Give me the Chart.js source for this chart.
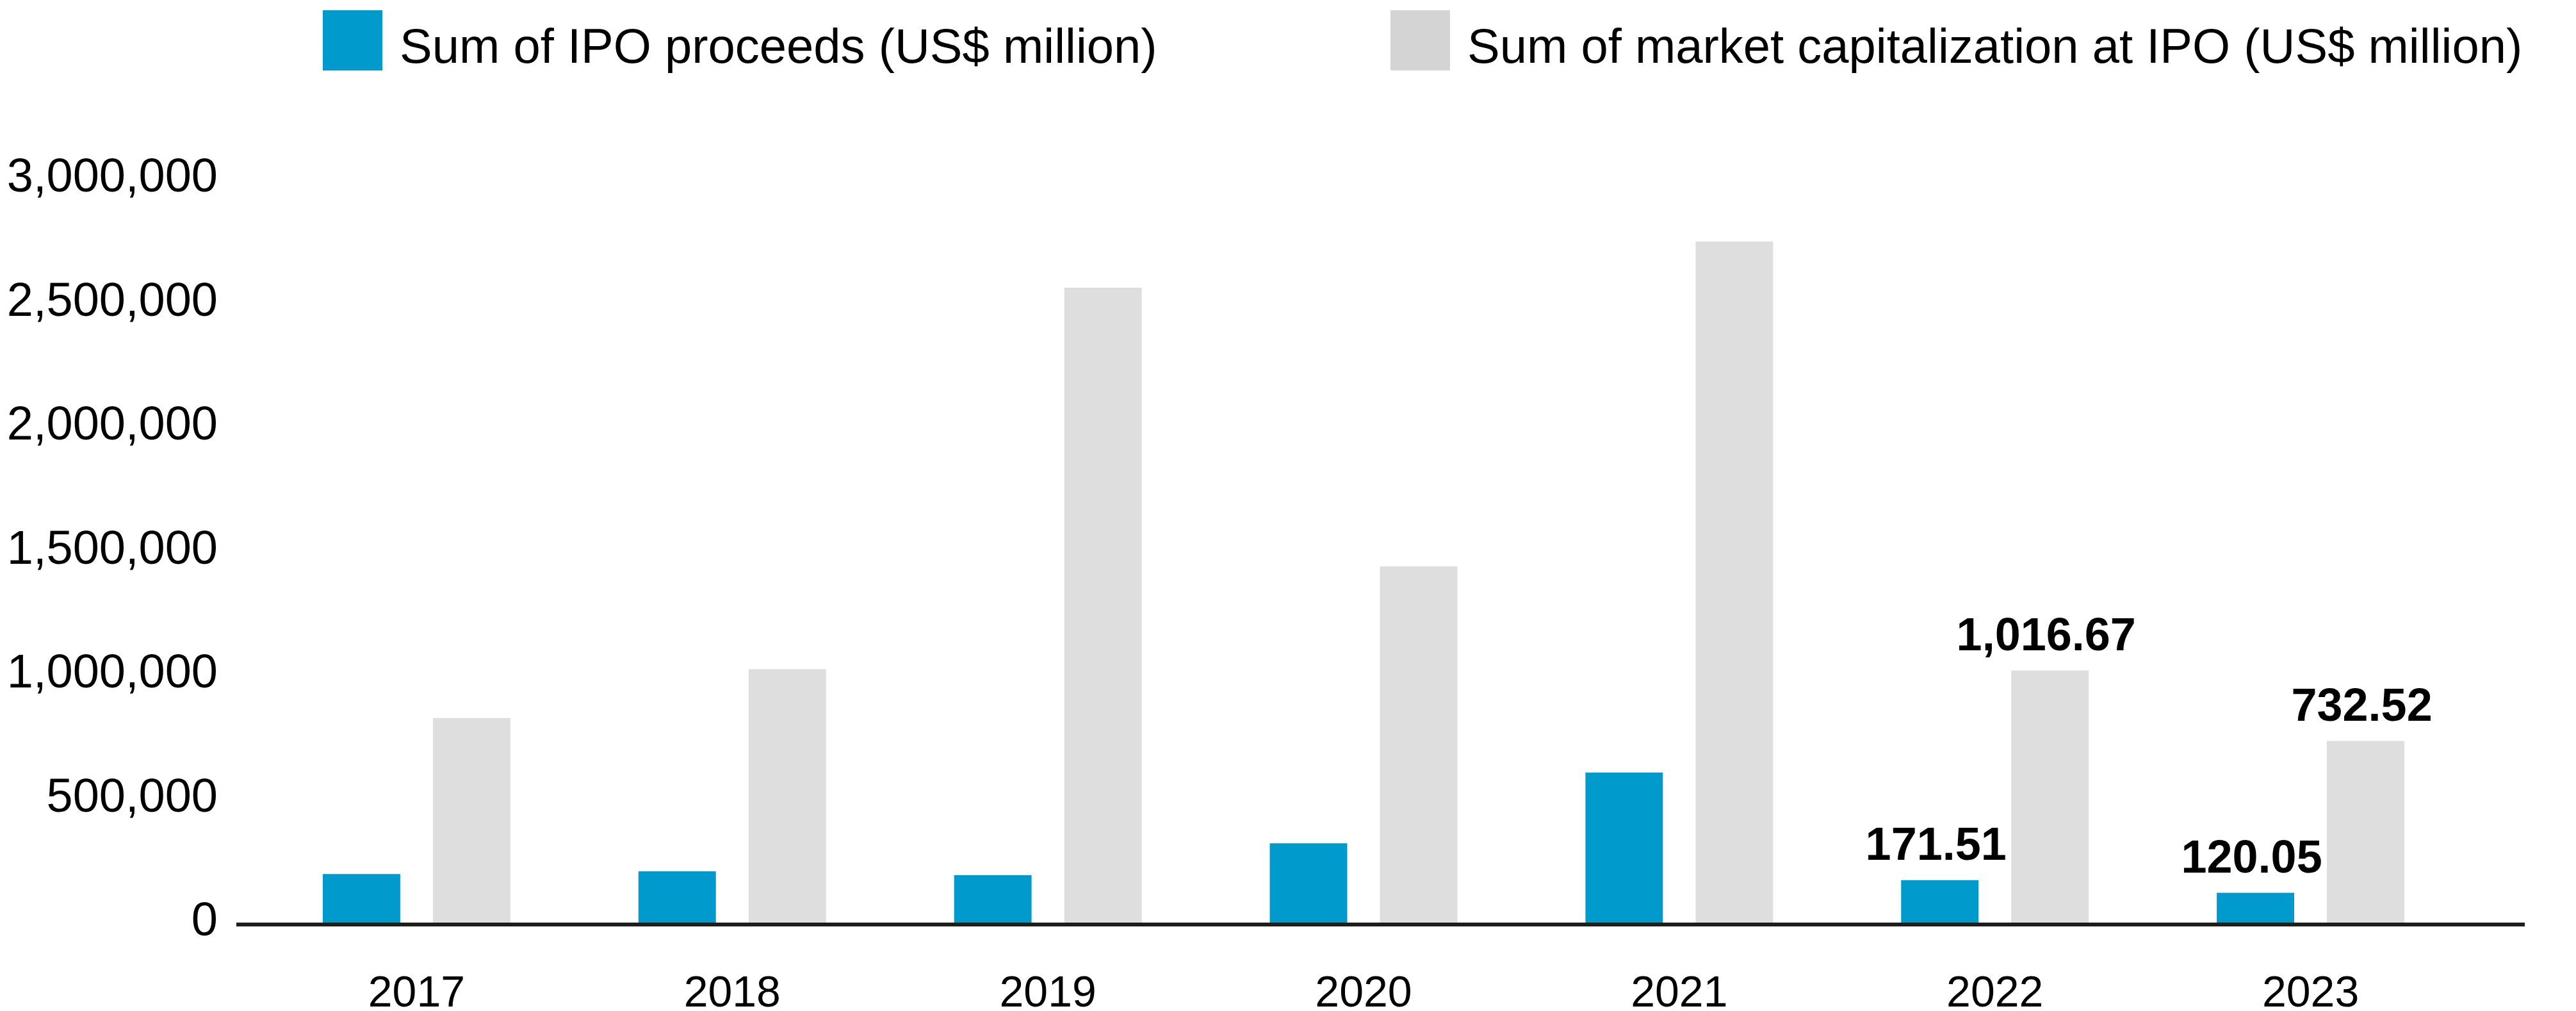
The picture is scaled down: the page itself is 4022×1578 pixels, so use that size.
<!DOCTYPE html>
<html>
<head>
<meta charset="utf-8">
<script src="https://cdn.jsdelivr.net/npm/chart.js@4.4.1/dist/chart.umd.min.js"></script>
<style>
  body { margin: 0; background: #fff; }
  #wrap { position: relative; width: 4022px; height: 1578px; }
  #legend { position: absolute; left: 0; top: 0; width: 100%; height: 130px; font-family: "Liberation Sans", Arial, sans-serif; }
  .item { position: absolute; top: 16px; }
  .box { position: absolute; left: 0; top: 0; width: 93px; height: 94px; }
  .txt { position: absolute; left: 120px; top: 18px; font-size: 76px; line-height: 76px; white-space: nowrap; color: #000; }
</style>
</head>
<body>
<div id="wrap">
  <canvas id="ipoChart"></canvas>
  <div id="legend"></div>
</div>
<script>
const years = ['2017', '2018', '2019', '2020', '2021', '2022', '2023']
const proceeds = [196000, 207000, 191000, 320000, 605000, 171510, 120050]
const marketCap = [825000, 1022000, 2561000, 1437000, 2747000, 1016670, 732520]
const proceedsLabels = [null, null, null, null, null, '171.51', '120.05']
const marketCapLabels = [null, null, null, null, null, '1,016.67', '732.52']
const yTicks = [0, 500000, 1000000, 1500000, 2000000, 2500000, 3000000]

const font = '"Liberation Sans", Arial, sans-serif'

// bold value labels above some bars
const valueLabels = {
    id: 'valueLabels',
    afterDatasetsDraw(chart) {
        const ctx = chart.ctx
        ctx.save()
        ctx.font = 'bold 72px ' + font
        ctx.fillStyle = '#000'
        ctx.textAlign = 'center'
        ctx.textBaseline = 'alphabetic'
        chart.data.datasets.forEach((ds, i) => {
            chart.getDatasetMeta(i).data.forEach((bar, j) => {
                const txt = ds.valueLabels[j]
                if (txt) ctx.fillText(txt, bar.x - 6, bar.y - 32)
            })
        })
        ctx.restore()
    }
}

// baseline at zero, a bit wider than the plot area
const zeroLine = {
    id: 'zeroLine',
    afterDatasetsDraw(chart) {
        const ctx = chart.ctx
        const y = chart.scales.y.getPixelForValue(0)
        ctx.save()
        ctx.strokeStyle = '#1d1d1b'
        ctx.lineWidth = 6
        ctx.beginPath()
        ctx.moveTo(chart.chartArea.left - 35, y + 3)
        ctx.lineTo(chart.chartArea.right + 88, y + 3)
        ctx.stroke()
        ctx.restore()
    }
}

const ctx = document.getElementById('ipoChart').getContext('2d')

const chart = new Chart(ctx, {
    type: 'bar',
    data: {
        labels: years,
        datasets: [{
            label: 'Sum of IPO proceeds (US$ million)',
            data: proceeds,
            valueLabels: proceedsLabels,
            backgroundColor: '#009acd',
            legendColor: '#009acd',
            categoryPercentage: 0.698,
            barPercentage: 0.703,
        }, {
            label: 'Sum of market capitalization at IPO (US$ million)',
            data: marketCap,
            valueLabels: marketCapLabels,
            backgroundColor: '#dedede',
            legendColor: '#d4d4d4',
            categoryPercentage: 0.698,
            barPercentage: 0.703,
        }]
    },
    options: {
        responsive: true,
        maintainAspectRatio: false,
        animation: false,
        layout: {
            padding: { top: 279, right: 168, bottom: 0, left: 0 }
        },
        scales: {
            x: {
                grid: { display: false },
                border: { display: false },
                ticks: {
                    color: '#000',
                    padding: 63,
                    font: { family: font, size: 68 }
                },
                afterFit(scale) { scale.height = 138 }
            },
            y: {
                min: 0,
                max: 3000000,
                grid: { display: false },
                border: { display: false },
                afterBuildTicks(scale) { scale.ticks = yTicks.map(v => ({ value: v })) },
                ticks: {
                    color: '#000',
                    padding: 56,
                    font: { family: font, size: 74 },
                    callback: (v) => v.toLocaleString('en-US')
                },
                afterFit(scale) { scale.width = 404 }
            }
        },
        plugins: {
            legend: { display: false },
            tooltip: { enabled: false }
        }
    },
    plugins: [valueLabels, zeroLine]
})

// html legend from the datasets
const legendPos = [504, 2171]
const legendEl = document.getElementById('legend')
chart.data.datasets.forEach((ds, i) => {
    const item = document.createElement('div')
    item.className = 'item'
    item.style.left = legendPos[i] + 'px'
    const box = document.createElement('div')
    box.className = 'box'
    box.style.background = ds.legendColor
    const txt = document.createElement('div')
    txt.className = 'txt'
    txt.textContent = ds.label
    item.appendChild(box)
    item.appendChild(txt)
    legendEl.appendChild(item)
})
</script>
</body>
</html>
